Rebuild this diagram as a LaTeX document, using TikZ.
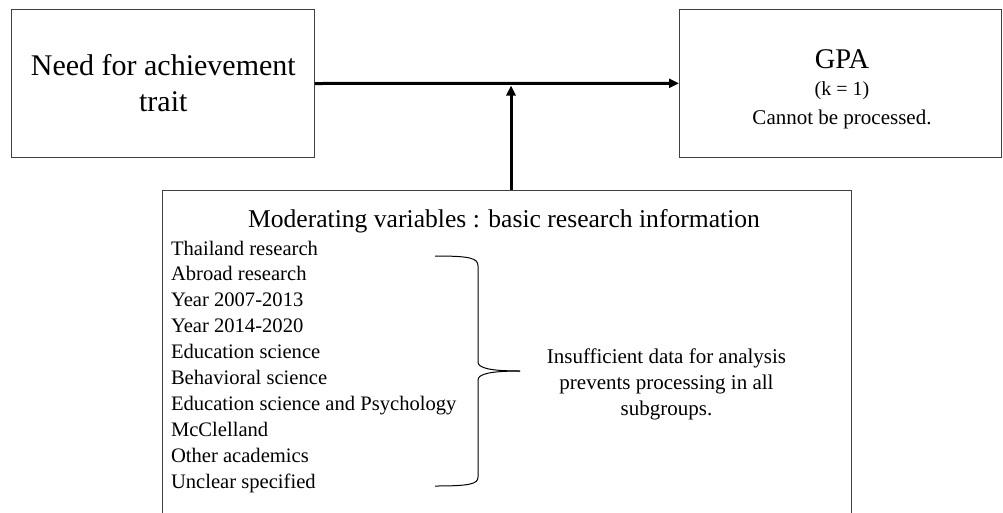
\documentclass[tikz,border=0pt]{standalone}
\usepackage{fontspec}
\setmainfont{Liberation Serif}
\usetikzlibrary{arrows.meta}
\begin{document}
\begin{tikzpicture}[x=1pt,y=-1pt,
  box/.style={draw=black!75, line width=1pt, inner sep=0pt, outer sep=0pt},
  conn/.style={line width=3pt, -{Triangle[length=10pt,width=9pt]}},
  txt/.style={inner sep=0pt, outer sep=0pt},
  bracepath/.style={line width=1pt, black}]
\clip (0,0) rectangle (1003,512);
\node[box, minimum width=303.3pt, minimum height=148.4pt, align=center,
      font=\fontsize{30}{36}\selectfont] (need) at (163.3,83.5) {Need for achievement\\trait};
\node[box, minimum width=322pt, minimum height=148pt] (gpa) at (840,83.3) {};
\node[txt, anchor=base, font=\fontsize{28.5}{30}\selectfont] (gpat) at (842,68.3) {GPA};
\node[txt, anchor=base, font=\fontsize{20}{24}\selectfont] (gpak) at (842,95.5) {(k = 1)};
\node[txt, anchor=base, font=\fontsize{21}{25}\selectfont] (gpac) at (842,124) {Cannot be processed.};
\node[box, minimum width=689pt, minimum height=350pt] (mod) at (506.5,365) {};
\node[txt, anchor=base, font=\fontsize{25.6}{30}\selectfont] (title) at (504,227.5) {Moderating variables : basic research information};
\foreach \t [count=\i] in {Thailand research, Abroad research, Year 2007-2013, Year 2014-2020,
  Education science, Behavioral science, Education science and Psychology, McClelland,
  Other academics, Unclear specified}
  \node[txt, anchor=base west, font=\fontsize{20.6}{25}\selectfont] (item\i) at (171,{255+(\i-1)*25.9}) {\t};
\node[txt, anchor=base, font=\fontsize{21}{25}\selectfont] (ins1) at (666.5,363.5) {Insufficient data for analysis};
\node[txt, anchor=base, font=\fontsize{21}{25}\selectfont] (ins2) at (666.5,389.5) {prevents processing in all};
\node[txt, anchor=base, font=\fontsize{21}{25}\selectfont] (ins3) at (666.5,415.5) {subgroups.};
\coordinate (j) at (511,85.5);
\draw[conn] (need.east) -- (gpa.west);
\draw[conn] (j |- mod.north) -- (j);
\draw[bracepath] (435,256) .. controls (470,256) and (478,258) .. (478,266) -- (478,362)
  .. controls (478,368) and (490,371) .. (520,371);
\draw[bracepath] (520,371) .. controls (490,371) and (478,374) .. (478,380) -- (478,477)
  .. controls (478,484) and (470,486) .. (435,486);
\end{tikzpicture}
\end{document}
